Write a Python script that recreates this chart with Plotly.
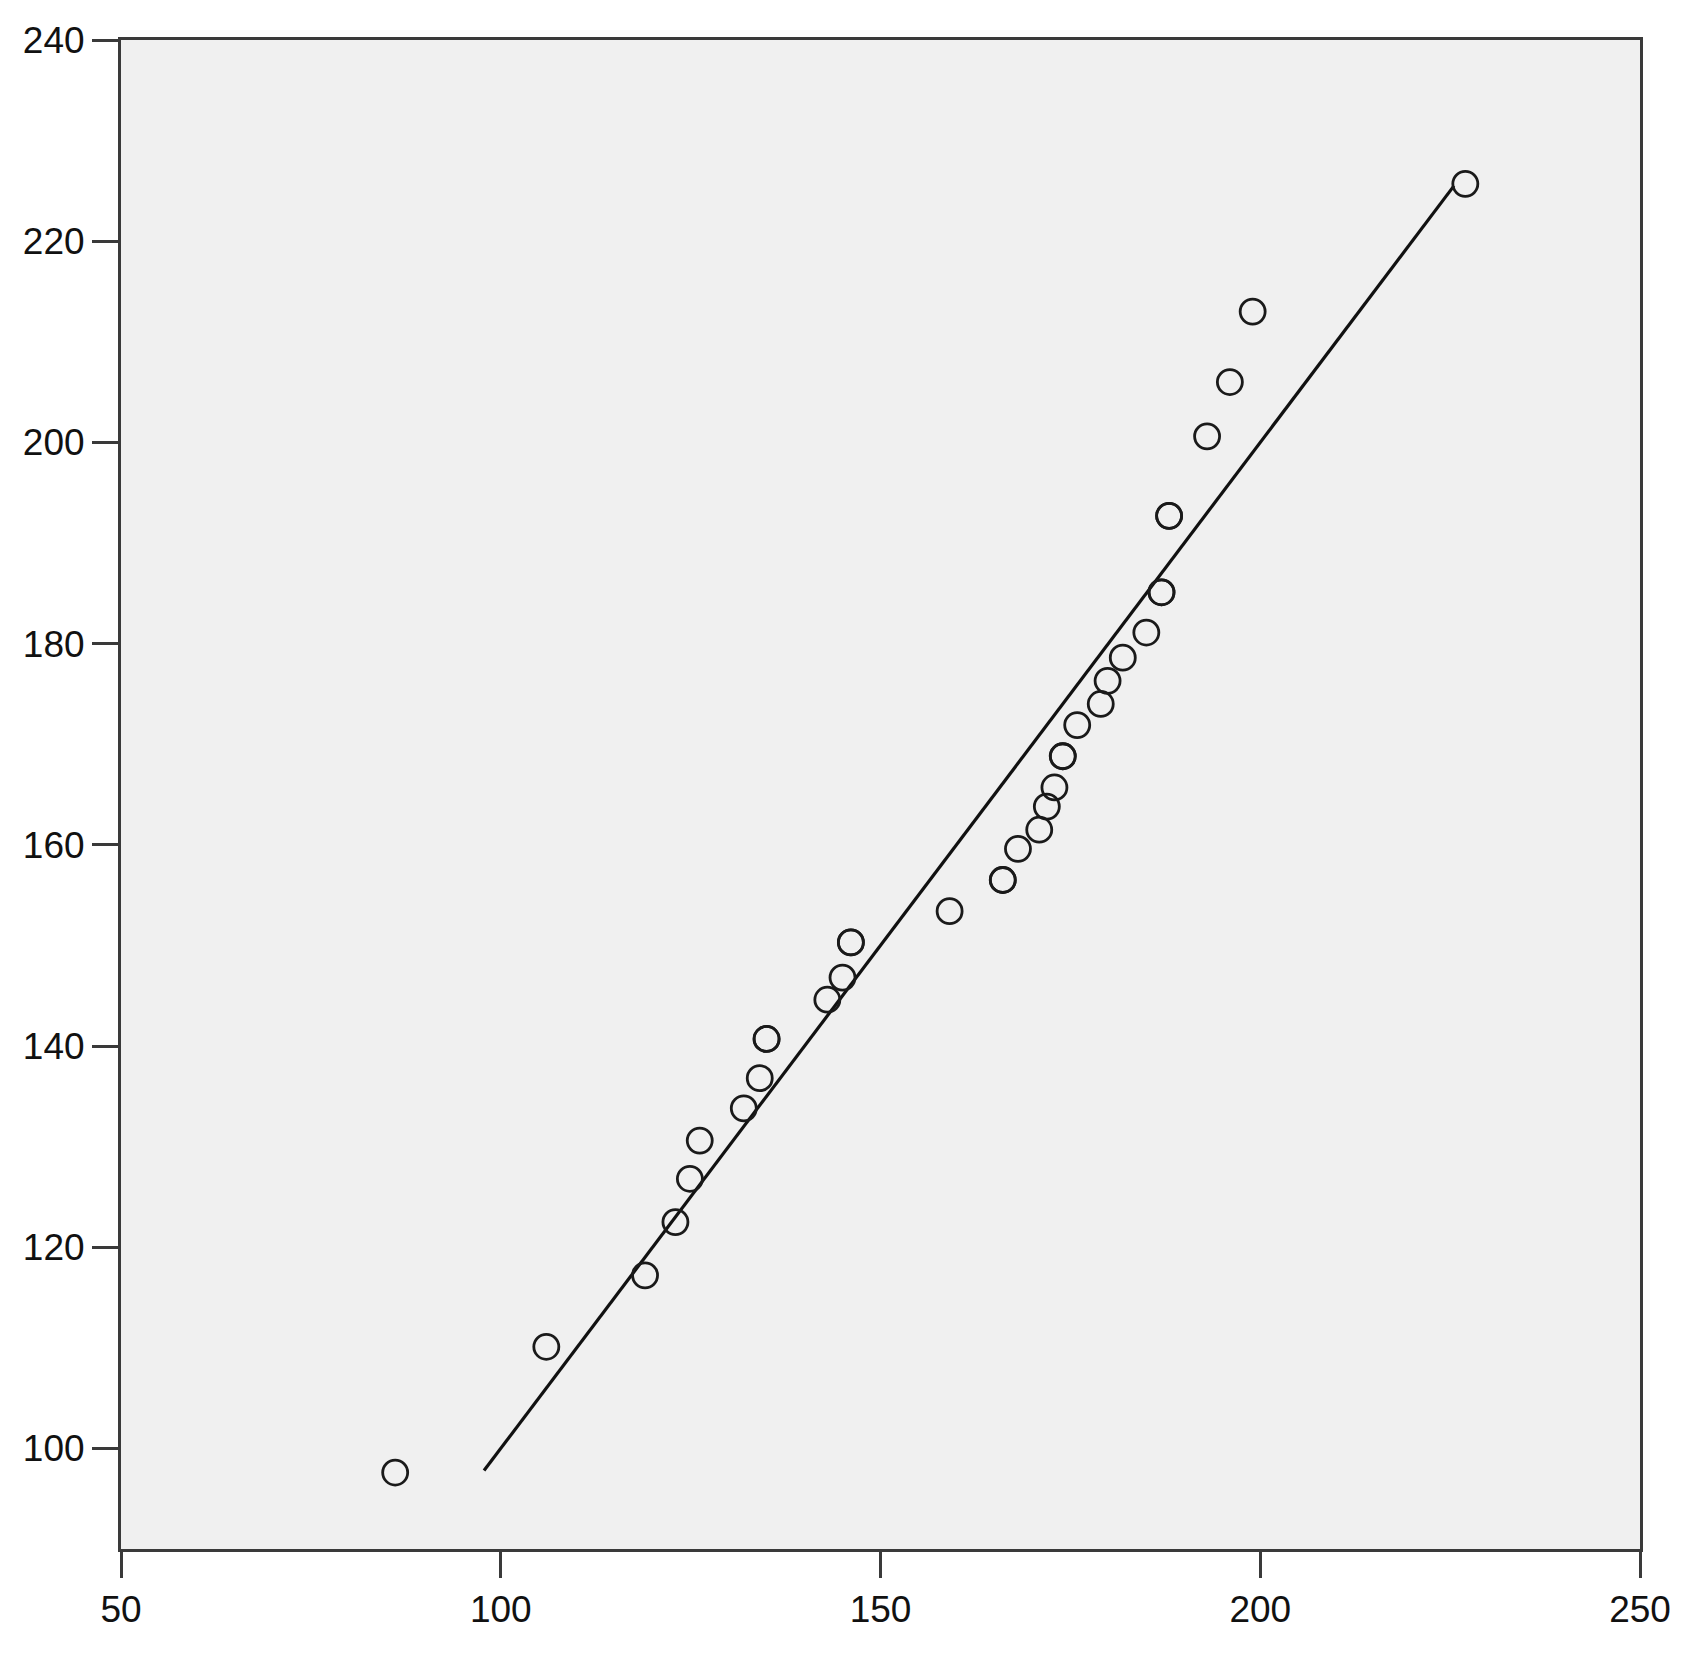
import plotly.graph_objects as go

# observed value (x) vs expected normal value (y); repeated entries overlap
observed = [86.1, 106.0, 119.0, 123.0, 124.9, 126.2, 132.0, 134.1, 135.0, 135.0,
            143.0, 145.0, 146.1, 146.1, 159.1, 166.1, 166.1, 168.1, 170.9, 171.9,
            172.9, 174.0, 174.0, 175.9, 179.0, 179.9, 181.9, 185.0, 187.0, 187.0,
            188.0, 188.0, 193.0, 196.0, 199.0, 227.0]
expected = [97.6, 110.1, 117.2, 122.5, 126.8, 130.6, 133.8, 136.8, 140.7, 140.7,
            144.6, 146.8, 150.3, 150.3, 153.4, 156.5, 156.5, 159.6, 161.5, 163.8,
            165.7, 168.8, 168.8, 171.9, 174.0, 176.3, 178.6, 181.1, 185.1, 185.1,
            192.7, 192.7, 200.6, 206.0, 213.0, 225.7]

ref_line = [97.8, 225.5]

x_ticks = [50, 100, 150, 200, 250]
y_ticks = [100, 120, 140, 160, 180, 200, 220, 240]

fig = go.Figure()
fig.add_trace(go.Scatter(
    x=ref_line, y=ref_line, mode="lines",
    line=dict(color="#111111", width=3.2), showlegend=False,
))
fig.add_trace(go.Scatter(
    x=observed, y=expected, mode="markers",
    marker=dict(symbol="circle", size=25, color="rgba(0,0,0,0)",
                line=dict(color="#1a1a1a", width=2.8)),
    showlegend=False,
))

axis_style = dict(
    showgrid=False, zeroline=False,
    showline=True, linecolor="#3a3a3a", linewidth=3, mirror=True,
    ticks="outside", ticklen=26, tickwidth=3, tickcolor="#3a3a3a",
    tickfont=dict(family="Liberation Sans, Arial", size=37, color="#111111"),
)

fig.update_xaxes(range=[50, 250], tickvals=x_ticks, **axis_style)
fig.update_yaxes(range=[90, 240], tickvals=y_ticks, **axis_style)

# page body adds an 8px margin, so the figure is slightly smaller than the window
fig.update_layout(
    width=1692, height=1650,
    margin=dict(l=113, r=60, t=23, b=109),
    plot_bgcolor="#f0f0f0", paper_bgcolor="white",
)

fig.write_html("out.html")
